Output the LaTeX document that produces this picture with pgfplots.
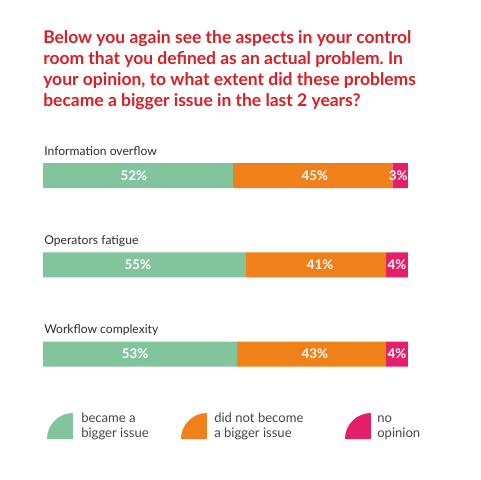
\documentclass[border=0pt]{standalone}
\usepackage{pgfplots}
\pgfplotsset{compat=1.18}
\usepackage{pgfplotstable}
\usepackage{fontspec}
\setmainfont{Lato}
\frenchspacing
\definecolor{cgreen}{RGB}{130,196,156}
\definecolor{corange}{RGB}{240,128,26}
\definecolor{cpink}{RGB}{229,30,106}
\definecolor{cred}{RGB}{214,31,38}
\definecolor{ctext}{RGB}{45,45,45}
\definecolor{clegend}{RGB}{70,70,70}
% segment widths (percent of bar) and labels
\pgfplotstableread{
y green orange pink
0 52.1 43.6 4.3
1 55.6 38.4 6.0
2 53.2 40.8 6.0
}\bars
\pgfplotstableread{
x y label
24.9 0 52\%
74.5 0 45\%
97.3 0 3\%
26.0 1 55\%
75.9 1 41\%
97.0 1 4\%
25.2 2 53\%
74.5 2 43\%
97.0 2 4\%
}\labels
\begin{document}
\begin{tikzpicture}[x=0.75pt,y=-0.75pt]
\fill[white] (0,0) rectangle (480,480);
\useasboundingbox (0,0) rectangle (480,480);
% title
\begin{scope}[every node/.style={anchor=base west, inner sep=0pt, text=cred, font=\fontsize{13.1}{15.6}\selectfont\bfseries}]
\node at (43,43) {Below you again see the aspects in your control};
\node at (43,64) {room that you defined as an actual problem. In};
\node at (43,85) {your opinion, to what extent did these problems};
\node at (43,106) {became a bigger issue in the last 2 years?};
\end{scope}
% category labels
\begin{scope}[every node/.style={anchor=base west, inner sep=0pt, text=ctext, font=\fontsize{9.1}{10}\selectfont}]
\node at (44,155) {Information overflow};
\node at (44,244) {Operators fatigue};
\node at (44,333) {Workflow complexity};
\end{scope}
\pgfplotsset{mybase/.style={
  at={(32.25pt,-98.2pt)}, anchor=north west, scale only axis,
  width=273.75pt, height=200.8pt, xmin=0, xmax=100,
  ymin=-0.5, ymax=2.5, y dir=reverse, hide axis, clip=false}}
\begin{axis}[mybase, xbar stacked, bar width=18.75pt]
\addplot[fill=cgreen, draw=none] table[x=green, y=y] {\bars};
\addplot[fill=corange, draw=none] table[x=orange, y=y] {\bars};
\addplot[fill=cpink, draw=none] table[x=pink, y=y] {\bars};
\end{axis}
\begin{axis}[mybase]
\addplot[draw=none, mark=none, nodes near coords, point meta=explicit symbolic,
  nodes near coords style={anchor=center, text=white, inner sep=0pt,
  font=\fontsize{10}{11}\selectfont\bfseries}]
  table[x=x, y=y, meta=label] {\labels};
\end{axis}
% legend
\fill[cgreen] (73,439) -- (47,439) arc[start angle=180, end angle=90, radius=19.5pt] -- cycle;
\fill[corange] (207,439) -- (181,439) arc[start angle=180, end angle=90, radius=19.5pt] -- cycle;
\fill[cpink] (371,439) -- (345,439) arc[start angle=180, end angle=90, radius=19.5pt] -- cycle;
\begin{scope}[every node/.style={anchor=base west, inner sep=0pt, text=clegend, font=\fontsize{9.8}{11}\selectfont}]
\node at (81,422) {became a};
\node at (81,437) {bigger issue};
\node at (214,422) {did not become};
\node at (214,437) {a bigger issue};
\node at (377,422) {no};
\node at (377,437) {opinion};
\end{scope}
\end{tikzpicture}
\end{document}
